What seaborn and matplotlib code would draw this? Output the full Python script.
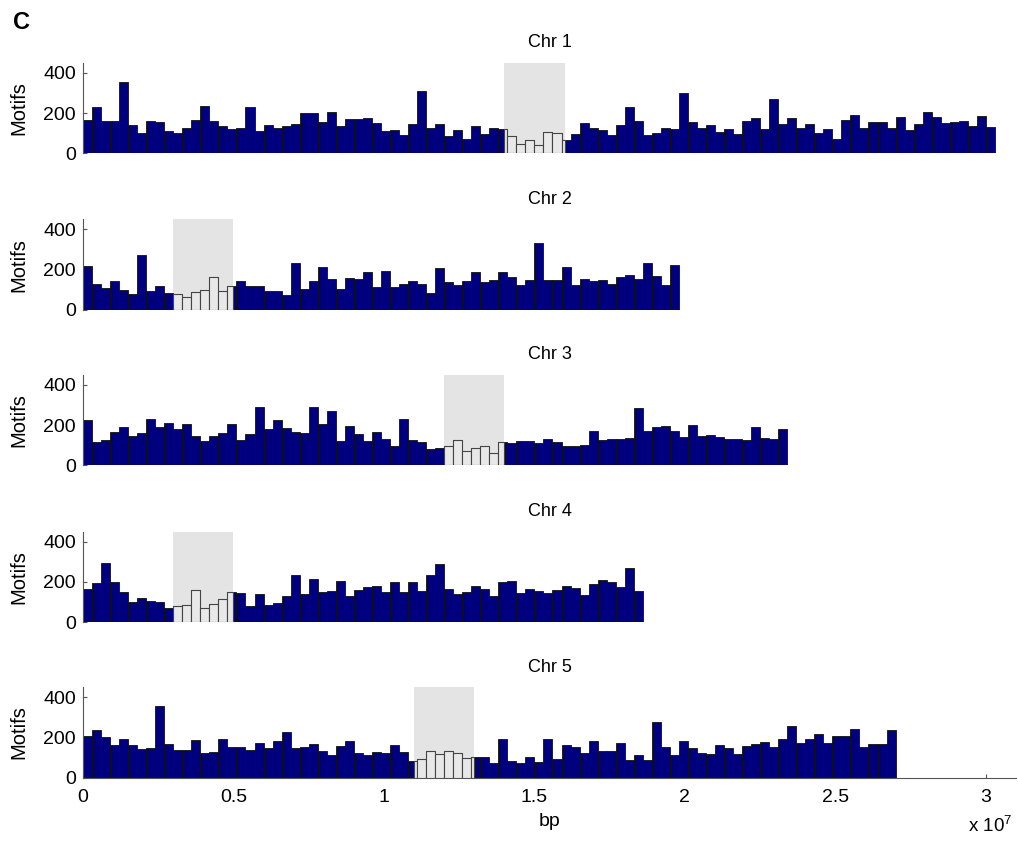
import numpy as np
import pandas as pd
import matplotlib
matplotlib.use("Agg")
import matplotlib.pyplot as plt
import seaborn as sns

# ---- Data: motif counts per 300 kb bin

BIN_SIZE = 3e5

chr_names = ["Chr 1", "Chr 2", "Chr 3", "Chr 4", "Chr 5"]

chr1_counts = [
    165, 231, 162, 162, 352, 142, 102, 162, 157, 109, 102, 127, 167, 236, 162, 137,
    122, 127, 231, 112, 142, 127, 137, 147, 198, 198, 157, 203, 137, 172, 172, 177,
    152, 112, 117, 93, 147, 307, 127, 147, 88, 117, 73, 137, 98, 127, 122,
    88, 48, 68, 39, 107, 102,
    64, 98, 149, 127, 117, 93, 142, 228, 159, 93, 102, 127, 122, 298, 154, 127,
    142, 107, 122, 98, 162, 174, 122, 268, 147, 174, 127, 147, 102, 122, 73, 167,
    192, 127, 157, 157, 127, 182, 117, 147, 203, 182, 152, 157, 162, 137, 187, 132,
]

chr2_counts = [
    216, 131, 111, 142, 101, 77, 274, 93, 121, 82,
    77, 62, 87, 101, 165, 96, 121,
    142, 118, 118, 93, 93, 73, 235, 106, 142, 214, 155, 106, 160, 155, 186, 116,
    191, 116, 131, 142, 131, 82, 206, 137, 126, 142, 186, 137, 150, 186, 162, 122,
    150, 333, 147, 150, 211, 126, 155, 142, 150, 131, 165, 175, 155, 235, 167, 126,
    225,
]

chr3_counts = [
    226, 118, 126, 166, 190, 146, 162, 230, 190, 211, 180, 205, 146, 121, 146, 162,
    205, 126, 156, 289, 180, 226, 185, 167, 162, 289, 205, 269, 123, 195, 156, 123,
    167, 131, 97, 230, 126, 118, 82, 87,
    97, 126, 72, 87, 97, 61, 116,
    111, 121, 121, 113, 131, 118, 97, 97, 102, 170, 126, 131, 131, 138, 284, 170,
    190, 195, 170, 141, 202, 146, 151, 141, 131, 131, 126, 190, 136, 131, 180,
]

chr4_counts = [
    163, 193, 294, 198, 149, 100, 122, 104, 100, 73,
    83, 88, 162, 69, 93, 118, 152,
    144, 80, 139, 88, 95, 129, 237, 139, 217, 149,
    157, 205, 132, 160, 175, 180, 152, 200, 152, 200, 157, 237, 287, 165, 140, 152,
    180, 165, 130, 200, 205, 147, 165, 157, 147, 160, 180, 170, 135, 190, 210, 200,
    175, 270, 157,
]

chr5_counts = [
    208, 235, 200, 163, 190, 160, 140, 145, 355, 165, 135, 135, 185, 120, 125, 190,
    150, 150, 135, 170, 145, 180, 225, 145, 150, 165, 130, 110, 155, 180, 120, 110,
    125, 120, 160, 125,
    85, 95, 130, 115, 130, 120, 100, 105,
    105, 75, 190, 83, 73, 105, 80, 190, 93, 160, 150, 120, 180, 130, 130, 170,
    88, 110, 88, 275, 150, 110, 183, 145, 120, 115, 160, 145, 115, 155, 165, 178,
    153, 190, 255, 170, 190, 215, 170, 205, 205, 240, 150, 165, 165, 235,
]

chr_counts = [chr1_counts, chr2_counts, chr3_counts, chr4_counts, chr5_counts]

# centromere regions (bp)
centromeres = [(1.4e7, 1.6e7), (0.3e7, 0.5e7), (1.2e7, 1.4e7), (0.3e7, 0.5e7), (1.1e7, 1.3e7)]

x_ticks = [0, 0.5e7, 1e7, 1.5e7, 2e7, 2.5e7, 3e7]
x_ticklabels = ["0", "0.5", "1", "1.5", "2", "2.5", "3"]

# ---- Style

NAVY = "#00007f"
PALE = "#e8e8e8"
SHADE = "#e4e4e4"
AXIS = "#555555"

sns.set_theme(style="white")
plt.rcParams["font.family"] = ["Liberation Sans", "DejaVu Sans"]
plt.rcParams["mathtext.fontset"] = "custom"
plt.rcParams["mathtext.rm"] = "Liberation Sans"
plt.rcParams["text.color"] = "black"
plt.rcParams["axes.labelcolor"] = "black"
plt.rcParams["xtick.labelcolor"] = "black"
plt.rcParams["ytick.labelcolor"] = "black"

fig = plt.figure(figsize=(10.18, 8.43), dpi=100)

bottoms = [0.8181, 0.6323, 0.4480, 0.2618, 0.0775]
n_panels = len(chr_names)

for i, (name, counts, (c0, c1)) in enumerate(zip(chr_names, chr_counts, centromeres)):
    ax = fig.add_axes([0.0815, bottoms[i], 0.9165, 0.1076])

    counts = np.asarray(counts, dtype=float)
    edges = np.arange(len(counts) + 1) * BIN_SIZE
    df = pd.DataFrame({"pos": (edges[:-1] + edges[1:]) / 2, "motifs": counts})

    ax.axvspan(c0, c1, color=SHADE, lw=0, zorder=0)

    sns.histplot(data=df, x="pos", weights="motifs", bins=list(edges), color=NAVY,
                 edgecolor="#111111", linewidth=0.6, alpha=1, ax=ax, zorder=2)

    # bins inside the centromere, clipped to it
    inside = (edges[1:] > c0) & (edges[:-1] < c1)
    left = np.clip(edges[:-1][inside], c0, c1)
    right = np.clip(edges[1:][inside], c0, c1)
    sub = pd.DataFrame({"pos": (left + right) / 2, "motifs": counts[inside]})
    sns.histplot(data=sub, x="pos", weights="motifs", bins=list(np.append(left, right[-1])),
                 color=PALE, edgecolor="#444444", linewidth=0.8, alpha=1, ax=ax, zorder=3)

    ax.set_xlim(0, 3.1e7)
    ax.set_ylim(0, 450)
    ax.set_yticks([0, 200, 400])
    ax.set_yticklabels(["0", "200", "400"])
    ax.set_ylabel("Motifs", fontsize=14.5, color="black")
    ax.yaxis.set_label_coords(-0.058, 0.5)
    ax.set_title(name, fontsize=13, pad=11, color="black")

    for side in ["top", "right"]:
        ax.spines[side].set_visible(False)
    ax.spines["left"].set_color(AXIS)
    ax.spines["left"].set_linewidth(0.8)
    ax.tick_params(axis="y", direction="in", length=3, width=0.8, color=AXIS,
                   labelcolor="black", labelsize=14, pad=5, left=True)

    if i < n_panels - 1:
        ax.spines["bottom"].set_visible(False)
        ax.set_xticks([])
        ax.set_xlabel("")
    else:
        ax.spines["bottom"].set_color(AXIS)
        ax.spines["bottom"].set_linewidth(0.8)
        ax.set_xticks(x_ticks)
        ax.set_xticklabels(x_ticklabels)
        ax.tick_params(axis="x", direction="in", length=3, width=0.8, color=AXIS,
                       labelcolor="black", labelsize=14, pad=8, bottom=True)
        ax.set_xlabel("bp", fontsize=14, labelpad=5, color="black")

fig.text(0.951, 0.008, r"x 10$^{7}$", fontsize=13.5, ha="left", va="bottom", color="black")
fig.text(0.013, 0.973, "C", fontsize=17, fontweight="bold", ha="left", va="center", color="black")

fig.savefig("out.png", dpi=100)
